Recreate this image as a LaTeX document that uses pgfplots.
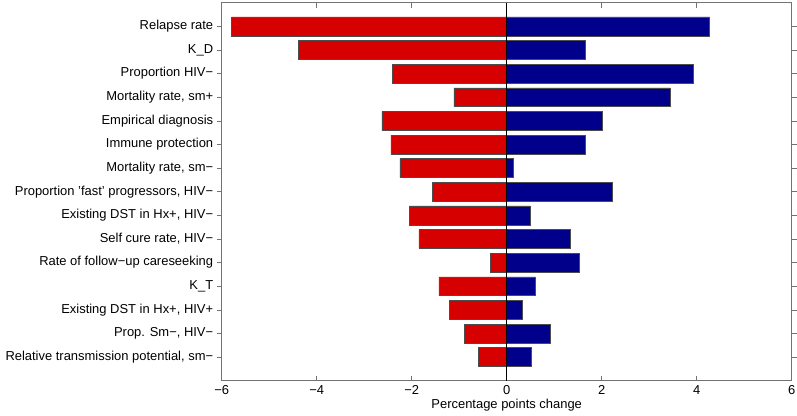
\documentclass[border=0pt]{standalone}
\usepackage{pgfplots}
\pgfplotsset{compat=1.18}
\usepackage{fontspec}
\setmainfont{Liberation Sans}
\definecolor{tred}{RGB}{215,0,0}
\definecolor{tblue}{RGB}{0,0,138}
\begin{document}
\begin{tikzpicture}
\begin{axis}[
  scale only axis,
  width=570bp, height=378bp,
  xmin=-6, xmax=6, ymin=0, ymax=16,
  y dir=reverse,
  xtick={-6,-4,-2,0,2,4,6},
  xticklabels={−6,−4,−2,0,2,4,6},
  ytick={1,...,15},
  yticklabels={Relapse rate,K\_D,Proportion HIV−,{Mortality rate, sm+},Empirical diagnosis,Immune protection,{Mortality rate, sm−},{Proportion 'fast' progressors, HIV−},{Existing DST in Hx+, HIV−},{Self cure rate, HIV−},Rate of follow−up careseeking,K\_T,{Existing DST in Hx+, HIV+},{Prop. Sm−, HIV−},{Relative transmission potential, sm−}},
  tick align=inside,
  xtick pos=both, ytick pos=both,
  major tick length=5bp,
  axis line style={black!55, line width=0.8pt},
  tick style={black!55, line width=0.6pt},
  tick label style={font=\fontsize{13}{15}\selectfont},
  xticklabel style={yshift=-1bp},
  xlabel={Percentage points change},
  xlabel style={font=\fontsize{13}{15}\selectfont, yshift=2bp},
  every tick label/.append style={black},
  xbar, bar width=0.8, bar shift=0pt,
]
\addplot[fill=tred, draw=black!70, line width=0.4pt] coordinates {
(-5.79,1) (-4.39,2) (-2.40,3) (-1.11,4) (-2.63,5) (-2.44,6) (-2.25,7) (-1.57,8)
(-2.05,9) (-1.85,10) (-0.35,11) (-1.43,12) (-1.21,13) (-0.89,14) (-0.60,15)};
\addplot[fill=tblue, draw=black!70, line width=0.4pt] coordinates {
(4.27,1) (1.66,2) (3.93,3) (3.44,4) (2.02,5) (1.66,6) (0.13,7) (2.23,8)
(0.49,9) (1.34,10) (1.52,11) (0.60,12) (0.32,13) (0.91,14) (0.52,15)};
\addplot[sharp plot, black, line width=0.6pt, forget plot] coordinates {(0,0) (0,16)};
\end{axis}
\pgfresetboundingbox
\path (current axis.south west) ++(-221.7bp,-35.3bp) rectangle ++(797bp,416bp);
\end{tikzpicture}
\end{document}
